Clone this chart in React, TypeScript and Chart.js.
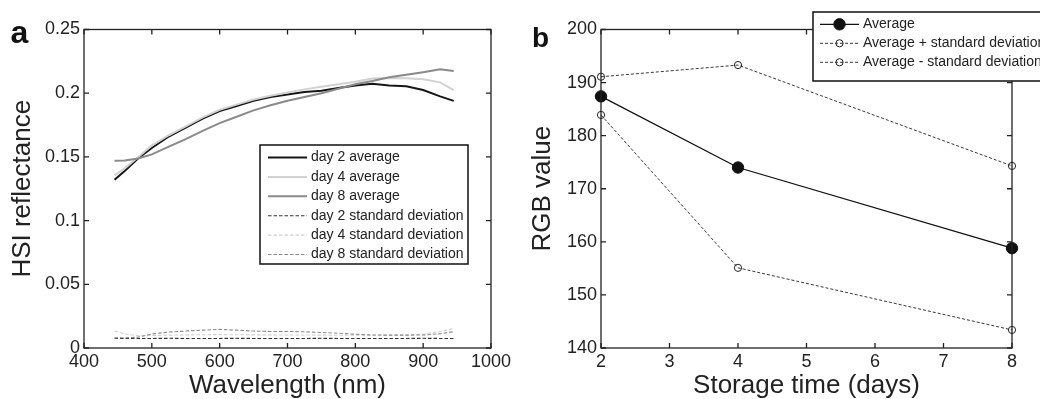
import { useEffect, useRef } from 'react';
import { Chart, registerables } from 'chart.js';

Chart.register(...registerables);

const FONT = '"Liberation Sans", Arial, Helvetica, sans-serif';
const INK = '#222222';

// ---------- Panel a data ----------
const wavelengths = [445, 460, 480, 500, 525, 550, 575, 600, 625, 650, 675, 700, 725, 750, 775, 800, 825, 850, 875, 900, 925, 945];
const day2Average = [0.132, 0.139, 0.149, 0.157, 0.166, 0.173, 0.18, 0.186, 0.19, 0.194, 0.197, 0.199, 0.201, 0.202, 0.204, 0.206, 0.2075, 0.206, 0.2055, 0.2025, 0.1975, 0.194];
const day4Average = [0.1355, 0.141, 0.15, 0.159, 0.167, 0.174, 0.181, 0.187, 0.191, 0.195, 0.198, 0.2005, 0.203, 0.205, 0.207, 0.209, 0.2115, 0.212, 0.2118, 0.211, 0.2085, 0.2025];
const day8Average = [0.147, 0.1472, 0.1488, 0.152, 0.158, 0.164, 0.1705, 0.1765, 0.1815, 0.1865, 0.1905, 0.194, 0.197, 0.2, 0.2035, 0.207, 0.2095, 0.2125, 0.2145, 0.2165, 0.2187, 0.2175];
const day2StdDev = [0.0076, 0.0075, 0.0075, 0.0075, 0.0076, 0.0075, 0.0075, 0.0075, 0.0076, 0.0075, 0.0075, 0.0075, 0.0075, 0.0076, 0.0075, 0.0075, 0.0075, 0.0075, 0.0075, 0.0076, 0.0075, 0.0075];
const day4StdDev = [0.0133, 0.011, 0.0095, 0.0098, 0.0101, 0.0103, 0.0104, 0.0105, 0.0104, 0.0103, 0.0103, 0.0102, 0.0102, 0.0101, 0.01, 0.01, 0.01, 0.01, 0.0102, 0.0108, 0.013, 0.0154];
const day8StdDev = [0.008, 0.008, 0.0085, 0.011, 0.0125, 0.0133, 0.014, 0.0146, 0.014, 0.0133, 0.013, 0.013, 0.0127, 0.0122, 0.0116, 0.0108, 0.0102, 0.0101, 0.0101, 0.0102, 0.0112, 0.0128];
const xTicksA = [400, 500, 600, 700, 800, 900, 1000];
const xTickLabelsA = ['400', '500', '600', '700', '800', '900', '1000'];
const yTicksA = [0, 0.05, 0.1, 0.15, 0.2, 0.25];
const yTickLabelsA = ['0', '0.05', '0.1', '0.15', '0.2', '0.25'];

// ---------- Panel b data ----------
const storageDays = [2, 4, 8];
const rgbAverage = [187.4, 174.0, 158.8];
const rgbPlusStd = [191.1, 193.3, 174.3];
const rgbMinusStd = [183.9, 155.1, 143.4];
const xTicksB = [2, 3, 4, 5, 6, 7, 8];
const xTickLabelsB = ['2', '3', '4', '5', '6', '7', '8'];
const yTicksB = [140, 150, 160, 170, 180, 190, 200];
const yTickLabelsB = ['140', '150', '160', '170', '180', '190', '200'];

const pts = (xs: number[], ys: number[]) => xs.map((x, i) => ({ x, y: ys[i] }));

const framePlugin = {
  id: 'frame',
  afterDraw(chart: any, _args: any, opts: any) {
    const { ctx, chartArea: a, scales } = chart;
    const xs = scales.x;
    const ys = scales.y;
    ctx.save();
    ctx.strokeStyle = INK;
    ctx.lineWidth = 1.3;
    ctx.strokeRect(a.left, a.top, a.right - a.left, a.bottom - a.top);
    const tl = 5;
    ctx.beginPath();
    xs.ticks.forEach((t: any) => {
      const px = xs.getPixelForValue(t.value);
      ctx.moveTo(px, a.bottom);
      ctx.lineTo(px, a.bottom - tl);
      ctx.moveTo(px, a.top);
      ctx.lineTo(px, a.top + tl);
    });
    ys.ticks.forEach((t: any) => {
      const py = ys.getPixelForValue(t.value);
      ctx.moveTo(a.left, py);
      ctx.lineTo(a.left + tl, py);
      ctx.moveTo(a.right, py);
      ctx.lineTo(a.right - tl, py);
    });
    ctx.stroke();

    const lg = opts.legend;
    if (lg) {
      ctx.fillStyle = '#ffffff';
      ctx.fillRect(lg.x, lg.y, lg.w, lg.h);
      ctx.lineWidth = lg.borderWidth;
      ctx.strokeStyle = '#111111';
      ctx.strokeRect(lg.x, lg.y, lg.w, lg.h);
      chart.data.datasets.forEach((ds: any, i: number) => {
        const y = lg.rowY + i * lg.rowStep;
        ctx.save();
        ctx.strokeStyle = ds.borderColor;
        ctx.lineWidth = ds.borderWidth;
        ctx.setLineDash(ds.borderDash || []);
        ctx.beginPath();
        ctx.moveTo(lg.lineX0, y);
        ctx.lineTo(lg.lineX1, y);
        ctx.stroke();
        ctx.setLineDash([]);
        if (ds.pointRadius > 0) {
          ctx.beginPath();
          ctx.arc((lg.lineX0 + lg.lineX1) / 2, y, ds.pointRadius, 0, Math.PI * 2);
          ctx.fillStyle = ds.pointBackgroundColor;
          ctx.fill();
          ctx.lineWidth = ds.pointBorderWidth;
          ctx.strokeStyle = ds.pointBorderColor;
          ctx.stroke();
        }
        ctx.fillStyle = INK;
        ctx.font = `${lg.fontSize}px ${FONT}`;
        ctx.textBaseline = 'middle';
        ctx.textAlign = 'left';
        ctx.fillText(ds.label, lg.textX, y);
        ctx.restore();
      });
    }

    const pl = opts.panelLabel;
    if (pl) {
      ctx.fillStyle = '#111111';
      ctx.font = `bold ${pl.size}px ${FONT}`;
      ctx.textBaseline = 'alphabetic';
      ctx.textAlign = 'left';
      ctx.fillText(pl.text, pl.x, pl.y);
    }
    ctx.restore();
  },
};

const tickFont = { family: FONT, size: 18 };

function axis(min: number, max: number, ticks: number[], labels: string[], title: string, isX: boolean, fitSize: number, titleSize: number, titlePad: number) {
  return {
    type: 'linear',
    min,
    max,
    afterBuildTicks: (s: any) => {
      s.ticks = ticks.map((v) => ({ value: v }));
    },
    afterFit: (s: any) => {
      if (isX) s.height = fitSize;
      else s.width = fitSize;
    },
    grid: { display: false, drawTicks: false },
    border: { display: false },
    ticks: {
      autoSkip: false,
      maxRotation: 0,
      minRotation: 0,
      padding: isX ? 3 : 4,
      color: INK,
      font: tickFont,
      callback: (_v: any, i: number) => labels[i],
    },
    title: {
      display: true,
      text: title,
      color: INK,
      font: { family: FONT, size: titleSize, lineHeight: 1 },
      padding: isX ? { top: 0, bottom: titlePad } : { top: titlePad, bottom: 0 },
    },
  };
}

function PanelA() {
  const ref = useRef<HTMLCanvasElement>(null);
  useEffect(() => {
    if (!ref.current) return;
    const chart = new Chart(ref.current, {
      type: 'line',
      data: {
        datasets: [
          { label: 'day 2 average', data: pts(wavelengths, day2Average), borderColor: '#161616', borderWidth: 2, pointRadius: 0, order: 3 },
          { label: 'day 4 average', data: pts(wavelengths, day4Average), borderColor: '#d2d2d2', borderWidth: 2, pointRadius: 0, order: 2 },
          { label: 'day 8 average', data: pts(wavelengths, day8Average), borderColor: '#8a8a8a', borderWidth: 2, pointRadius: 0, order: 1 },
          { label: 'day 2 standard deviation', data: pts(wavelengths, day2StdDev), borderColor: '#333333', borderWidth: 1.1, borderDash: [3.5, 2], pointRadius: 0, order: 6 },
          { label: 'day 4 standard deviation', data: pts(wavelengths, day4StdDev), borderColor: '#cfcfcf', borderWidth: 1.1, borderDash: [3.5, 2], pointRadius: 0, order: 5 },
          { label: 'day 8 standard deviation', data: pts(wavelengths, day8StdDev), borderColor: '#8a8a8a', borderWidth: 1.1, borderDash: [3.5, 2], pointRadius: 0, order: 4 },
        ],
      } as any,
      options: {
        animation: false,
        responsive: false,
        layout: { padding: { left: 0, top: 29.5, right: 29, bottom: 0 } },
        plugins: {
          legend: { display: false },
          tooltip: { enabled: false },
          frame: {
            legend: { x: 260, y: 145, w: 208, h: 119, borderWidth: 1.5, rowY: 157.5, rowStep: 19.4, lineX0: 268, lineX1: 307, textX: 311, fontSize: 14 },
            panelLabel: { text: 'a', x: 10.5, y: 43, size: 32 },
          },
        } as any,
        scales: {
          x: axis(400, 1000, xTicksA, xTickLabelsA, 'Wavelength (nm)', true, 51, 26, 0),
          y: axis(0, 0.25, yTicksA, yTickLabelsA, 'HSI reflectance', false, 84, 26, 9.5),
        } as any,
      },
      plugins: [framePlugin as any],
    });
    return () => chart.destroy();
  }, []);
  return <canvas ref={ref} width={520} height={399} style={{ position: 'absolute', left: 0, top: 0, width: 520, height: 399 }} />;
}

function PanelB() {
  const ref = useRef<HTMLCanvasElement>(null);
  useEffect(() => {
    if (!ref.current) return;
    const chart = new Chart(ref.current, {
      type: 'line',
      data: {
        datasets: [
          { label: 'Average', data: pts(storageDays, rgbAverage), borderColor: '#111111', borderWidth: 1.3, pointRadius: 5.7, pointBackgroundColor: '#111111', pointBorderColor: '#111111', pointBorderWidth: 1, clip: false },
          { label: 'Average + standard deviation', data: pts(storageDays, rgbPlusStd), borderColor: '#222222', borderWidth: 0.9, borderDash: [3, 2], pointRadius: 3.6, pointBackgroundColor: 'rgba(255,255,255,0)', pointBorderColor: '#222222', pointBorderWidth: 1, clip: false },
          { label: 'Average - standard deviation', data: pts(storageDays, rgbMinusStd), borderColor: '#222222', borderWidth: 0.9, borderDash: [3, 2], pointRadius: 3.6, pointBackgroundColor: 'rgba(255,255,255,0)', pointBorderColor: '#222222', pointBorderWidth: 1, clip: false },
        ],
      } as any,
      options: {
        animation: false,
        responsive: false,
        layout: { padding: { left: 0, top: 29.5, right: 28, bottom: 0 } },
        plugins: {
          legend: { display: false },
          tooltip: { enabled: false },
          frame: {
            legend: { x: 293, y: 12, w: 260, h: 69, borderWidth: 1.5, rowY: 24.3, rowStep: 19, lineX0: 300, lineX1: 339, textX: 343, fontSize: 14 },
            panelLabel: { text: 'b', x: 12, y: 46.5, size: 28 },
          },
        } as any,
        scales: {
          x: axis(2, 8, xTicksB, xTickLabelsB, 'Storage time (days)', true, 51, 26, 0),
          y: axis(140, 200, yTicksB, yTickLabelsB, 'RGB value', false, 81, 26, 10),
        } as any,
      },
      plugins: [framePlugin as any],
    });
    return () => chart.destroy();
  }, []);
  return <canvas ref={ref} width={520} height={399} style={{ position: 'absolute', left: 520, top: 0, width: 520, height: 399 }} />;
}

export default function App() {
  return (
    <div style={{ position: 'fixed', left: 0, top: 0, width: 1040, height: 399, background: '#ffffff', overflow: 'hidden' }}>
      <PanelA />
      <PanelB />
    </div>
  );
}
